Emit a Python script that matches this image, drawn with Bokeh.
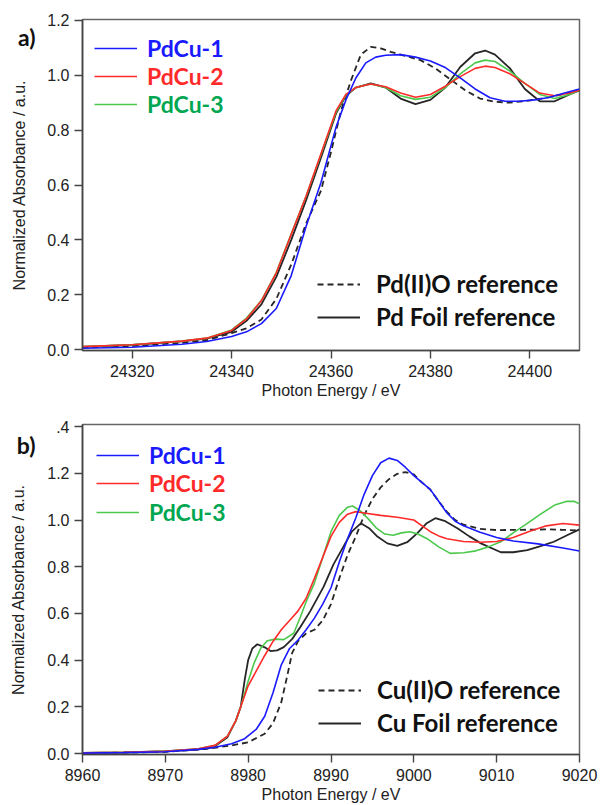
from bokeh.plotting import figure
from bokeh.models import Legend, LegendItem, FixedTicker, Range1d, LinearAxis
from bokeh.layouts import column
from bokeh.embed import file_html
from bokeh.resources import INLINE

# ---------------- Panel a) Pd K-edge ----------------
e_foil_a = [24310, 24320, 24330, 24335, 24340, 24343, 24346, 24349, 24352, 24355, 24358, 24361, 24363, 24365,
            24368, 24371, 24374, 24377, 24380, 24383, 24386, 24389, 24391, 24393, 24396, 24399, 24402, 24405, 24408, 24410]
foil_a = [0.010, 0.017, 0.030, 0.040, 0.065, 0.105, 0.165, 0.265, 0.400, 0.545, 0.700, 0.860, 0.925, 0.955,
          0.970, 0.955, 0.915, 0.895, 0.910, 0.955, 1.030, 1.080, 1.090, 1.075, 1.025, 0.950, 0.905, 0.905, 0.930, 0.945]

e_s_a = [24310, 24320, 24330, 24335, 24340, 24343, 24346, 24349, 24352, 24355, 24358, 24361, 24363, 24365,
         24368, 24371, 24374, 24377, 24380, 24383, 24386, 24389, 24391, 24393, 24396, 24399, 24402, 24405, 24408, 24410]
pdcu2_a = [0.011, 0.018, 0.031, 0.042, 0.070, 0.112, 0.178, 0.280, 0.420, 0.560, 0.715, 0.870, 0.930, 0.955,
           0.968, 0.958, 0.935, 0.920, 0.930, 0.960, 0.995, 1.025, 1.033, 1.028, 1.005, 0.970, 0.935, 0.925, 0.935, 0.945]
pdcu3_a = [0.011, 0.018, 0.031, 0.042, 0.072, 0.115, 0.180, 0.282, 0.422, 0.560, 0.712, 0.865, 0.928, 0.955,
           0.968, 0.955, 0.925, 0.912, 0.920, 0.955, 1.005, 1.045, 1.055, 1.050, 1.015, 0.970, 0.930, 0.915, 0.930, 0.945]

e_pdcu1_a = [24310, 24320, 24330, 24335, 24340, 24343, 24346, 24349, 24352, 24355, 24358, 24361, 24363, 24365,
             24367, 24369, 24371, 24374, 24377, 24380, 24383, 24386, 24389, 24392, 24395, 24398, 24401, 24404, 24407, 24410]
pdcu1_a = [0.005, 0.009, 0.020, 0.030, 0.048, 0.065, 0.095, 0.150, 0.270, 0.450, 0.610, 0.810, 0.910, 0.990,
           1.045, 1.066, 1.073, 1.075, 1.066, 1.052, 1.028, 0.990, 0.950, 0.918, 0.905, 0.905, 0.910, 0.920, 0.935, 0.950]

e_pdo_a = [24310, 24320, 24330, 24335, 24340, 24343, 24346, 24349, 24352, 24355, 24358, 24360, 24362, 24364,
           24366, 24368, 24370, 24372, 24375, 24378, 24381, 24384, 24387, 24390, 24393, 24396, 24400, 24404, 24407, 24410]
pdo_a = [0.008, 0.013, 0.025, 0.035, 0.060, 0.078, 0.110, 0.185, 0.310, 0.460, 0.580, 0.720, 0.870, 0.980,
         1.075, 1.103, 1.098, 1.085, 1.070, 1.055, 1.025, 0.985, 0.945, 0.915, 0.903, 0.900, 0.908, 0.920, 0.932, 0.945]

xticks_a = [24320, 24340, 24360, 24380, 24400]
xlabels_a = ["24320", "24340", "24360", "24380", "24400"]
yticks_a = [0.0, 0.2, 0.4, 0.6, 0.8, 1.0, 1.2]
ylabels_a = ["0.0", "0.2", "0.4", "0.6", "0.8", "1.0", "1.2"]

# ---------------- Panel b) Cu K-edge ----------------
e_pdcu1_b = [8960, 8965, 8970, 8974, 8976, 8978, 8979.5, 8981, 8982, 8983, 8984, 8985, 8986, 8987, 8988, 8989, 8990,
             8991, 8992, 8993, 8994, 8995, 8996, 8997, 8998, 8999, 9000, 9001, 9002, 9003, 9004, 9005, 9006, 9008,
             9010, 9012, 9015, 9018, 9020]
pdcu1_b = [0.002, 0.004, 0.008, 0.018, 0.027, 0.042, 0.062, 0.105, 0.160, 0.260, 0.380, 0.450, 0.485, 0.530, 0.580,
           0.640, 0.710, 0.820, 0.920, 1.010, 1.110, 1.190, 1.245, 1.265, 1.255, 1.225, 1.190, 1.160, 1.130, 1.080,
           1.030, 0.995, 0.975, 0.948, 0.925, 0.910, 0.898, 0.880, 0.867]

e_cuo_b = [8960, 8965, 8970, 8975, 8978, 8980, 8982, 8983, 8984, 8984.7, 8985.3, 8986, 8987, 8988, 8989, 8990, 8991,
           8992, 8993, 8994, 8995, 8996, 8997, 8998, 8999, 9000, 9001, 9002, 9003, 9004, 9005, 9006, 9008, 9010,
           9013, 9016, 9018, 9020]
cuo_b = [0.002, 0.004, 0.007, 0.020, 0.035, 0.048, 0.085, 0.130, 0.220, 0.330, 0.430, 0.480, 0.515, 0.530, 0.570,
         0.640, 0.750, 0.850, 0.930, 1.020, 1.090, 1.140, 1.175, 1.198, 1.205, 1.195, 1.160, 1.130, 1.080, 1.035,
         1.000, 0.980, 0.962, 0.957, 0.958, 0.960, 0.958, 0.955]

e_pdcu2_b = [8960, 8965, 8970, 8974, 8976, 8977.5, 8978.5, 8979.2, 8980, 8981, 8982, 8983, 8984, 8985, 8986, 8987,
             8988, 8989, 8990, 8991, 8992, 8993, 8994, 8996, 8998, 9000, 9001, 9002, 9003, 9004, 9006, 9008, 9010,
             9012, 9014, 9016, 9018, 9020]
pdcu2_b = [0.003, 0.005, 0.010, 0.020, 0.035, 0.075, 0.140, 0.210, 0.290, 0.355, 0.420, 0.480, 0.530, 0.570, 0.610,
           0.665, 0.750, 0.840, 0.930, 0.990, 1.025, 1.036, 1.030, 1.020, 1.012, 1.000, 0.975, 0.950, 0.932, 0.920,
           0.908, 0.905, 0.908, 0.925, 0.952, 0.975, 0.985, 0.978]

e_pdcu3_b = [8960, 8965, 8970, 8974, 8976, 8977.5, 8978.5, 8979.2, 8980, 8980.7, 8981.5, 8982.3, 8983.3, 8984.3,
             8985.5, 8986.3, 8987, 8988, 8989, 8990, 8991, 8992, 8992.6, 8993.5, 8994.5, 8995.5, 8996.5, 8997.5,
             8998.5, 8999.5, 9000.5, 9001.6, 9003, 9004.4, 9006, 9007.5, 9009, 9010.5, 9012, 9013.7, 9015.3, 9017,
             9018.5, 9019.3, 9020]
pdcu3_b = [0.003, 0.005, 0.010, 0.020, 0.035, 0.075, 0.140, 0.210, 0.310, 0.386, 0.450, 0.483, 0.490, 0.488,
           0.515, 0.585, 0.650, 0.730, 0.840, 0.950, 1.020, 1.055, 1.060, 1.040, 1.005, 0.965, 0.940, 0.935,
           0.945, 0.950, 0.940, 0.920, 0.885, 0.857, 0.860, 0.868, 0.885, 0.907, 0.945, 0.986, 1.025, 1.064,
           1.080, 1.080, 1.070]

e_foil_b = [8960, 8965, 8970, 8974, 8975.8, 8977.5, 8978.5, 8979.1, 8979.6, 8980, 8980.5, 8981.1, 8982, 8982.7,
            8983.5, 8984.3, 8985.3, 8986.3, 8987.5, 8989.1, 8990.3, 8991.5, 8992.5, 8993.6, 8994.6, 8995.6, 8996.8,
            8998, 8999.2, 9000.4, 9001.5, 9002.6, 9003.8, 9005.3, 9006.7, 9008.1, 9010.5, 9012, 9013.7, 9015.3,
            9016.9, 9018.5, 9020]
foil_b = [0.003, 0.005, 0.010, 0.018, 0.027, 0.070, 0.140, 0.200, 0.320, 0.400, 0.450, 0.468, 0.455, 0.439,
          0.442, 0.456, 0.490, 0.542, 0.610, 0.714, 0.810, 0.886, 0.950, 0.986, 0.965, 0.929, 0.900,
          0.889, 0.905, 0.943, 0.985, 1.008, 0.995, 0.964, 0.930, 0.900, 0.862, 0.862, 0.871, 0.888,
          0.907, 0.935, 0.960]

xticks_b = [8960, 8970, 8980, 8990, 9000, 9010, 9020]
xlabels_b = ["8960", "8970", "8980", "8990", "9000", "9010", "9020"]
yticks_b = [0.0, 0.2, 0.4, 0.6, 0.8, 1.0, 1.2, 1.4]
ylabels_b = ["0.0", "0.2", "0.4", "0.6", "0.8", "1.0", "1.2", ".4"]

Y_TITLE = "Normalized Absorbance / a.u."
X_TITLE = "Photon Energy / eV"

BLUE = "#1a1aff"
RED = "#ff2a2a"
GREEN = "#4cc94c"
GREEN_TXT = "#00a650"
BLACK = "#262626"
AXIS_FONT = "Liberation Sans"
LEG_FONT = "Lato"


def style(p, xticks, xlabels, yticks, ylabels):
    p.outline_line_color = "#666666"
    p.outline_line_width = 1.5
    p.grid.visible = False
    for ax in (p.xaxis[0], p.yaxis[0]):
        ax.axis_line_color = "#444444"
        ax.axis_line_width = 1.6
        ax.major_tick_line_color = "#444444"
        ax.major_tick_line_width = 1.4
        ax.major_tick_out = 8
        ax.major_tick_in = 0
        ax.minor_tick_out = 0
        ax.minor_tick_in = 0
        ax.major_label_text_font = AXIS_FONT
        ax.major_label_text_font_size = "16px"
        ax.major_label_text_color = "#222222"
        ax.axis_label_text_font = AXIS_FONT
        ax.axis_label_text_font_size = "16px"
        ax.axis_label_text_font_style = "normal"
        ax.axis_label_text_color = "#222222"
    p.xaxis[0].ticker = FixedTicker(ticks=xticks)
    p.xaxis[0].major_label_overrides = dict(zip(xticks, xlabels))
    p.yaxis[0].ticker = FixedTicker(ticks=yticks)
    p.yaxis[0].major_label_overrides = dict(zip(yticks, ylabels))
    p.xaxis[0].major_label_standoff = 6
    p.yaxis[0].major_label_standoff = 5
    p.xaxis[0].axis_label_standoff = 2


def add_tag_axis(p, tag, tag_y):
    # outer left axis: carries the panel tag as its only tick label and the y title
    ax = LinearAxis(ticker=FixedTicker(ticks=[tag_y]), major_label_overrides={tag_y: tag},
                    axis_label=Y_TITLE)
    ax.axis_line_color = None
    ax.major_tick_line_color = None
    ax.minor_tick_line_color = None
    ax.major_tick_out = 0
    ax.major_tick_in = 0
    ax.minor_tick_out = 0
    ax.minor_tick_in = 0
    ax.major_label_standoff = 9
    ax.major_label_text_font = LEG_FONT
    ax.major_label_text_font_style = "bold"
    ax.major_label_text_font_size = "23px"
    ax.major_label_text_color = "#111111"
    ax.axis_label_text_font = AXIS_FONT
    ax.axis_label_text_font_size = "16px"
    ax.axis_label_text_font_style = "normal"
    ax.axis_label_text_color = "#222222"
    ax.axis_label_standoff = -13
    p.add_layout(ax, "left")


def add_legend(p, items, loc, color, standoff, size="23px"):
    leg = Legend(items=items, location=loc, orientation="vertical",
                 border_line_color=None, background_fill_alpha=0,
                 padding=0, margin=0, spacing=4,
                 glyph_width=43, glyph_height=28, label_height=28,
                 label_standoff=standoff,
                 label_text_font=LEG_FONT, label_text_font_style="bold",
                 label_text_font_size=size, label_text_color=color)
    p.add_layout(leg, "center")


def panel(h, border_top, border_bottom, xr, yr, xticks, xlabels, yticks, ylabels):
    p = figure(width=600, height=h, output_backend="svg", toolbar_location=None,
               x_range=Range1d(*xr), y_range=Range1d(*yr),
               min_border_left=82, min_border_right=21, min_border_top=border_top,
               min_border_bottom=border_bottom, x_axis_label=X_TITLE)
    style(p, xticks, xlabels, yticks, ylabels)
    return p


# ---- panel a ----
pa = panel(404, 19, 54, (24310, 24410), (-0.003, 1.203), xticks_a, xlabels_a, yticks_a, ylabels_a)
r_pdo_a = pa.line(e_pdo_a, pdo_a, line_color=BLACK, line_width=1.8, line_dash="6 4")
r_foil_a = pa.line(e_foil_a, foil_a, line_color=BLACK, line_width=1.8)
r3a = pa.line(e_s_a, pdcu3_a, line_color=GREEN, line_width=1.6)
r2a = pa.line(e_s_a, pdcu2_a, line_color=RED, line_width=1.6)
r1a = pa.line(e_pdcu1_a, pdcu1_a, line_color=BLUE, line_width=1.6)

add_legend(pa, [LegendItem(label="PdCu-1", renderers=[r1a])], (12, 288), BLUE, 10)
add_legend(pa, [LegendItem(label="PdCu-2", renderers=[r2a])], (12, 260), RED, 10)
add_legend(pa, [LegendItem(label="PdCu-3", renderers=[r3a])], (12, 232), GREEN_TXT, 10)
add_legend(pa, [LegendItem(label="Pd(II)O reference", renderers=[r_pdo_a]),
                LegendItem(label="Pd Foil reference", renderers=[r_foil_a])], (235, 19), "#111111", 16, "24px")
add_tag_axis(pa, "a)", 1.14)

# ---- panel b ----
pb = panel(401, 20, 51, (8960, 9020), (-0.004, 1.409), xticks_b, xlabels_b, yticks_b, ylabels_b)
r_cuo_b = pb.line(e_cuo_b, cuo_b, line_color=BLACK, line_width=1.8, line_dash="6 4")
r_foil_b = pb.line(e_foil_b, foil_b, line_color=BLACK, line_width=1.8)
r3b = pb.line(e_pdcu3_b, pdcu3_b, line_color=GREEN, line_width=1.6)
r2b = pb.line(e_pdcu2_b, pdcu2_b, line_color=RED, line_width=1.6)
r1b = pb.line(e_pdcu1_b, pdcu1_b, line_color=BLUE, line_width=1.6)

H2 = 330
add_legend(pb, [LegendItem(label="PdCu-1", renderers=[r1b])], (14, H2 - 31 - 14), BLUE, 10)
add_legend(pb, [LegendItem(label="PdCu-2", renderers=[r2b])], (14, H2 - 59 - 14), RED, 10)
add_legend(pb, [LegendItem(label="PdCu-3", renderers=[r3b])], (14, H2 - 88 - 14), GREEN_TXT, 10)
add_legend(pb, [LegendItem(label="Cu(II)O reference", renderers=[r_cuo_b]),
                LegendItem(label="Cu Foil reference", renderers=[r_foil_b])], (236, 17), "#111111", 16, "24px")
add_tag_axis(pb, "b)", 1.32)

layout = column(pa, pb, spacing=0)
open("out.html", "w").write(file_html(layout, INLINE))
